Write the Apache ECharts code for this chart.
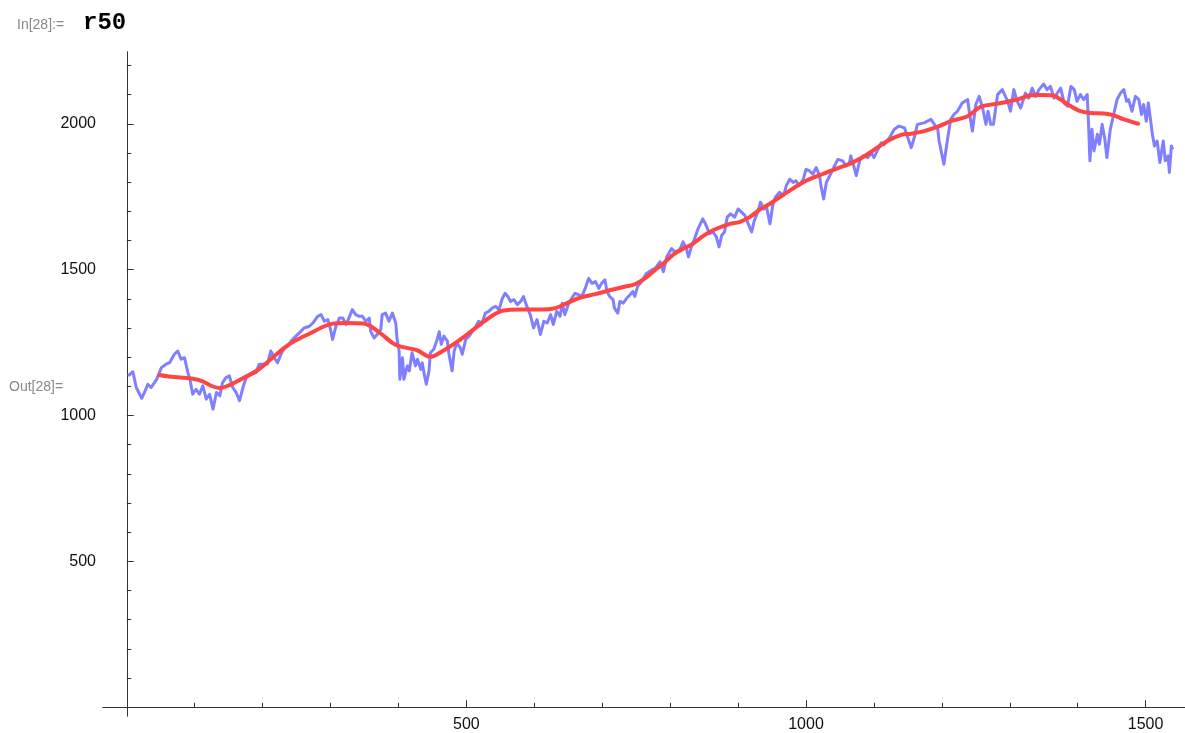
<!DOCTYPE html>
<html>
<head>
<meta charset="utf-8">
<script src="https://cdn.jsdelivr.net/npm/echarts@6/dist/echarts.min.js"></script>
<style>
html,body{margin:0;padding:0;background:#fff;}
#chart{width:1185px;height:733px;}
</style>
</head>
<body>
<div id="chart"></div>
<script>
// ---- data ----
const dayIndex = [2,9,14,22,26,31,36,44,51,58,63,70,75,80,85,90,93,97,102,107,112,117,122,127,132,137,141,146,151,156,161,166,171,176,183,190,195,202,207,212,217,222,227,232,237,242,249,254,261,269,274,281,286,291,296,300,303,308,313,318,323,327,332,337,342,347,352,357,359,364,369,374,376,381,386,391,396,398,401,402,406,408,413,416,420,425,428,433,435,438,441,445,447,452,457,460,463,467,472,474,479,482,486,491,494,499,504,509,514,518,523,528,533,538,543,548,553,557,561,565,570,575,580,584,589,594,599,604,609,614,619,624,628,633,638,641,645,650,655,660,665,670,675,680,685,690,695,699,704,707,711,716,718,723,726,731,736,741,745,748,752,758,765,773,778,785,790,795,802,807,814,819,824,827,832,836,841,848,852,858,863,868,872,876,880,884,889,895,900,905,910,915,920,924,929,933,938,942,947,951,955,961,967,971,976,981,985,990,996,1000,1005,1010,1015,1020,1022,1026,1030,1035,1042,1047,1054,1059,1064,1066,1071,1074,1079,1084,1091,1096,1100,1106,1111,1115,1123,1130,1137,1145,1150,1155,1160,1164,1174,1184,1189,1194,1196,1203,1208,1213,1218,1223,1230,1238,1241,1245,1250,1255,1260,1265,1268,1272,1276,1282,1289,1297,1301,1306,1311,1316,1323,1328,1333,1338,1343,1350,1355,1360,1365,1370,1375,1380,1385,1390,1395,1399,1404,1409,1414,1416,1418,1421,1424,1429,1432,1436,1440,1443,1448,1453,1458,1463,1468,1472,1475,1480,1485,1490,1494,1497,1501,1504,1510,1513,1517,1521,1526,1529,1533,1535,1538,1540];
const price = [1136,1150,1096,1059,1079,1107,1096,1124,1164,1176,1181,1210,1221,1193,1198,1147,1124,1073,1090,1073,1102,1056,1073,1022,1079,1068,1113,1130,1136,1096,1079,1051,1096,1130,1141,1147,1176,1176,1176,1221,1198,1181,1210,1232,1238,1255,1272,1283,1300,1306,1317,1340,1346,1323,1329,1295,1261,1306,1334,1334,1312,1334,1363,1346,1340,1340,1323,1334,1289,1266,1278,1295,1346,1351,1323,1351,1317,1261,1221,1124,1198,1124,1170,1153,1215,1170,1193,1158,1181,1141,1107,1153,1215,1227,1261,1287,1244,1272,1255,1215,1153,1221,1249,1232,1210,1261,1272,1289,1306,1323,1317,1351,1357,1368,1374,1363,1402,1419,1408,1391,1397,1380,1391,1408,1374,1346,1300,1329,1278,1323,1317,1346,1312,1357,1340,1385,1346,1380,1402,1419,1414,1408,1436,1470,1453,1459,1436,1453,1465,1425,1408,1397,1368,1351,1391,1385,1402,1414,1425,1408,1442,1459,1487,1499,1504,1527,1493,1544,1572,1561,1567,1595,1572,1544,1584,1606,1640,1674,1657,1623,1629,1612,1578,1618,1629,1680,1691,1680,1708,1697,1686,1657,1629,1669,1697,1731,1708,1714,1657,1720,1748,1765,1754,1788,1810,1799,1805,1788,1810,1844,1839,1827,1850,1822,1788,1742,1799,1822,1856,1878,1873,1856,1867,1890,1850,1822,1873,1890,1884,1901,1884,1912,1935,1929,1952,1981,1992,1986,1952,1918,1958,1998,2003,2015,1998,1981,1941,1861,1941,2015,2032,2043,2071,2083,2032,1975,2066,2094,2054,1998,2043,1998,1998,2100,2117,2077,2043,2117,2077,2054,2105,2088,2122,2094,2117,2136,2117,2128,2088,2105,2122,2071,2060,2128,2117,2077,2100,2083,2100,1998,1873,1981,1907,1964,1930,1998,1947,1884,1981,2032,2083,2105,2117,2077,2083,2043,2094,2083,2032,2066,2009,2071,1964,1924,1941,1867,1941,1873,1890,1833,1924,1912];
const maIndex = [48,65,95,110,124,137,149,168,193,212,232,247,271,291,303,320,349,359,374,391,401,416,428,447,465,484,504,523,538,553,582,611,631,645,665,690,714,734,748,763,778,790,805,819,832,849,863,888,902,917,932,947,961,976,998,1018,1037,1049,1062,1084,1098,1120,1140,1155,1174,1194,1213,1238,1257,1287,1311,1331,1345,1363,1375,1390,1404,1419,1439,1453,1468,1489];
const maValue = [1139,1133,1127,1119,1102,1094,1102,1124,1156,1193,1232,1255,1283,1306,1315,1317,1315,1306,1281,1249,1238,1230,1223,1201,1221,1249,1283,1317,1342,1359,1363,1363,1368,1382,1402,1416,1431,1442,1450,1470,1499,1521,1552,1572,1586,1616,1635,1657,1663,1680,1706,1726,1748,1771,1802,1822,1839,1850,1860,1886,1907,1941,1962,1966,1975,1990,2009,2026,2058,2071,2083,2098,2099,2098,2083,2060,2043,2037,2035,2029,2015,2000];
const xMajorTicks = [500,1000,1500];
const xMinorTicks = [100,200,300,400,600,700,800,900,1100,1200,1300,1400];
const yMajorTicks = [500,1000,1500,2000];
const yMinorTicks = [100,200,300,400,600,700,800,900,1100,1200,1300,1400,1600,1700,1800,1900,2100,2200];

const bluePts = dayIndex.map((d,i)=>[d,price[i]]);
const redPts = maIndex.map((d,i)=>[d,maValue[i]]);

const XMIN=-35, XMAX=1558, YMIN=-30, YMAX=2246;
const axisCol = '#333';
const labelFont = {fontFamily:'Liberation Sans, Arial, sans-serif', fontSize:16, color:'#111'};
const plain = v => String(v);

function xAxisDef(ticks, len, labels){
  return {
    type:'value', min:XMIN, max:XMAX, position:'bottom',
    splitLine:{show:false},
    axisLine:{show:true, onZero:true, lineStyle:{color:axisCol, width:1}},
    axisTick:{show:true, inside:true, length:len, customValues:ticks, lineStyle:{color:axisCol, width:1}},
    axisLabel:labels ? Object.assign({show:true, margin:1, customValues:ticks, formatter:plain}, labelFont) : {show:false}
  };
}
function yAxisDef(ticks, len, labels){
  return {
    type:'value', min:YMIN, max:YMAX, position:'left',
    splitLine:{show:false},
    axisLine:{show:true, onZero:true, lineStyle:{color:axisCol, width:1}},
    axisTick:{show:true, inside:true, length:len, customValues:ticks, lineStyle:{color:axisCol, width:1}},
    axisLabel:labels ? Object.assign({show:true, margin:7, customValues:ticks, formatter:plain}, labelFont) : {show:false}
  };
}

const chart = echarts.init(document.getElementById('chart'), null, {renderer:'canvas'});
chart.setOption({
  animation:false,
  backgroundColor:'#fff',
  grid:{left:103, right:0, top:52, bottom:12, containLabel:false},
  xAxis:[xAxisDef(xMajorTicks,7,true), xAxisDef(xMinorTicks,4.5,false)],
  yAxis:[yAxisDef(yMajorTicks,7,true), yAxisDef(yMinorTicks,4.5,false)],
  graphic:[
    {type:'text', left:17, top:18, style:{text:'In[28]:=', font:'14px "Liberation Sans", Arial, sans-serif', fill:'#888'}},
    {type:'text', left:83, top:11, style:{text:'r50', font:'bold 24px "Liberation Mono", "Courier New", monospace', fill:'#000'}},
    {type:'text', left:9, top:380, style:{text:'Out[28]=', font:'14px "Liberation Sans", Arial, sans-serif', fill:'#888'}}
  ],
  series:[
    {type:'line', xAxisIndex:0, yAxisIndex:0, data:bluePts, showSymbol:false, smooth:false,
     lineStyle:{color:'#7f7fff', width:3, join:'round'}, z:2},
    {type:'line', xAxisIndex:0, yAxisIndex:0, data:redPts, showSymbol:false, smooth:0.3,
     lineStyle:{color:'#ff4444', width:4, join:'round', cap:'round'}, z:3}
  ]
});
</script>
</body>
</html>
